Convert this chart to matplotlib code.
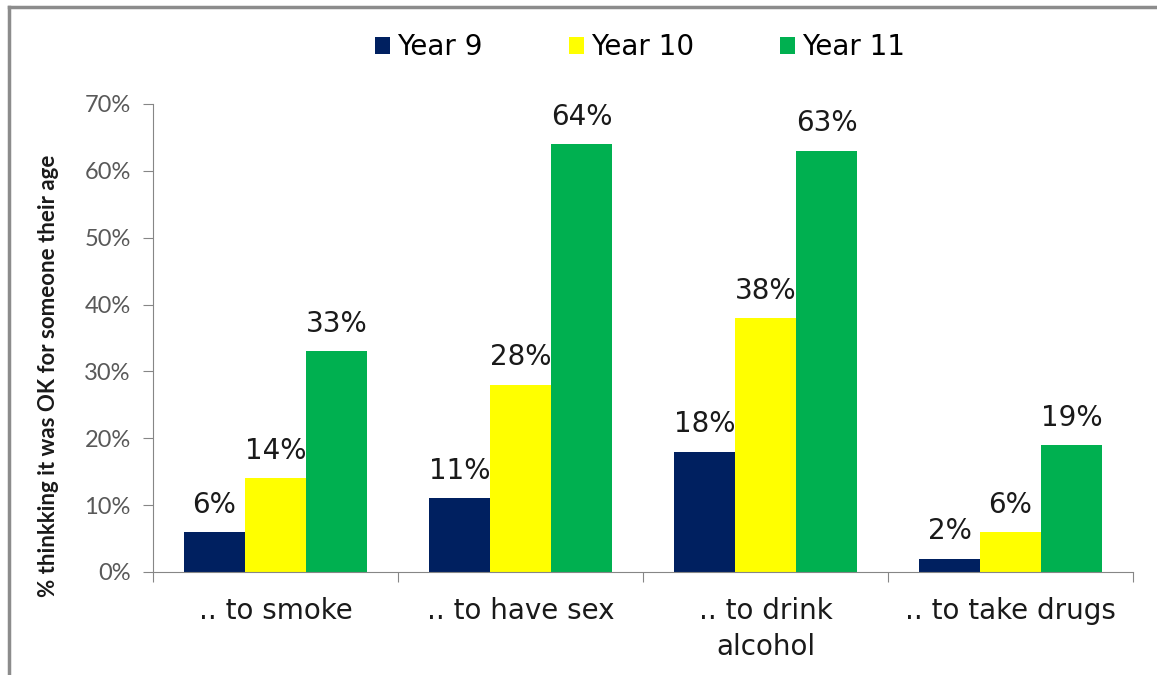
import numpy as np
import matplotlib
matplotlib.use("Agg")
import matplotlib.pyplot as plt
from matplotlib.lines import Line2D

categories = [".. to smoke", ".. to have sex", ".. to drink\nalcohol", ".. to take drugs"]
series_names = ["Year 9", "Year 10", "Year 11"]
year9 = [6, 11, 18, 2]
year10 = [14, 28, 38, 6]
year11 = [33, 64, 63, 19]
colors = ["#002060", "#FFFF00", "#00B050"]

fig = plt.figure(figsize=(11.57, 6.75), dpi=100)
ax = fig.add_axes([153 / 1157, 1 - 572 / 675, (1133 - 153) / 1157, (572 - 104) / 675])

x = np.arange(len(categories))
width = 0.249
for i, (vals, name, col) in enumerate(zip([year9, year10, year11], series_names, colors)):
    pos = x + (i - 1) * width
    ax.bar(pos, vals, width, color=col, label=name)
    for p, v in zip(pos, vals):
        ax.text(p, v + 2.0, f"{v}%", ha="center", va="bottom", fontsize=20,
                color="#1a1a1a", family="DejaVu Sans")

ax.set_xlim(-0.5, len(categories) - 0.5)
ax.set_ylim(0, 70)
ax.set_yticks(range(0, 71, 10))
ax.set_yticklabels([f"{t}%" for t in range(0, 71, 10)], fontsize=17,
                   color="#595959", family="Lato")
ax.set_xticks(np.arange(-0.5, len(categories), 1.0))
ax.set_xticklabels([])
ax.set_xticks(x, minor=True)
ax.set_xticklabels(categories, minor=True, fontsize=20, color="#1a1a1a",
                   linespacing=1.35, va="top")
ax.tick_params(axis="x", which="minor", length=0, pad=18)
ax.tick_params(axis="x", which="major", length=7, color="#868686", direction="out")
ax.tick_params(axis="y", length=7, color="#868686", direction="out", pad=9)
for s in ["top", "right"]:
    ax.spines[s].set_visible(False)
for s in ["left", "bottom"]:
    ax.spines[s].set_color("#868686")

ax.set_ylabel("% thinkking it was OK for someone their age", fontsize=16,
              fontweight="bold", color="#1a1a1a", family="Lato")
ax.yaxis.set_label_coords(-0.096, 0.42)

leg = fig.legend(loc="center", bbox_to_anchor=(640 / 1157, 1 - 47 / 675), ncol=3,
                 frameon=False, fontsize=20, handlelength=0.55, handleheight=0.55,
                 handletextpad=0.25, columnspacing=3.1)

# outer frame of the original picture (top and left edges visible)
fig.add_artist(Line2D([9 / 1157, 9 / 1157], [0, 1 - 7 / 675], color="#8c8c8c", lw=2.5,
                      transform=fig.transFigure))
fig.add_artist(Line2D([9 / 1157, 1], [1 - 7 / 675, 1 - 7 / 675], color="#8c8c8c", lw=2.5,
                      transform=fig.transFigure))

fig.savefig("out.png", dpi=100)
